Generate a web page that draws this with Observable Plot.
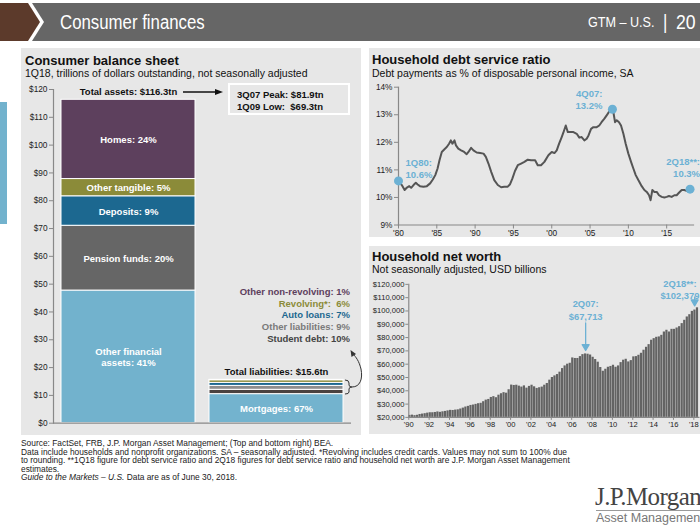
<!DOCTYPE html>
<html>
<head>
<meta charset="utf-8">
<script src="https://cdn.jsdelivr.net/npm/d3@7"></script>
<script src="https://cdn.jsdelivr.net/npm/@observablehq/plot@0.6"></script>
<style>
html, body { margin:0; padding:0; background:#fff; width:700px; height:525px; overflow:hidden; }
#page { position:relative; width:700px; height:525px; overflow:hidden; font-family:"Liberation Sans", Arial, sans-serif; color:#111; }
.abs { position:absolute; white-space:nowrap; }
.panel { position:absolute; background:#e7e7e7; }
.title { font-weight:bold; font-size:13px; line-height:15px; color:#111; }
.sub { font-size:10.5px; line-height:12px; color:#111; }
.ann { font-weight:bold; font-size:9.5px; line-height:11.6px; }
.foot { font-size:8.4px; line-height:8.5px; color:#222; }
.hdr { color:#fff; line-height:38px; top:3px; transform:scaleX(0.84); transform-origin:left center; }
.chart { position:absolute; }
</style>
</head>
<body>
<div id="page">
  <!-- header -->
  <div class="abs" style="left:0;top:3px;width:700px;height:38px;background:#666"></div>
  <svg class="abs" style="left:0;top:3px" width="50" height="38">
    <polygon points="0,0 32,0 44,19 32,38 0,38" fill="#fff"/>
    <polygon points="0,0 28,0 40,19 28,38 0,38" fill="#5c3a2b"/>
  </svg>
  <div class="abs hdr" style="left:60px;font-size:20px">Consumer finances</div>
  <div class="abs hdr" style="left:588px;font-size:15px">GTM – U.S.</div>
  <div class="abs hdr" style="left:663px;font-size:20px">|</div>
  <div class="abs hdr" style="left:676px;font-size:21px">20</div>

  <!-- side tab -->
  <div class="abs" style="left:0;top:102px;width:7px;height:122px;background:#72b2cd"></div>

  <!-- panels -->
  <div class="panel" style="left:21px;top:48px;width:340px;height:387px"></div>
  <div class="panel" style="left:369px;top:48px;width:340px;height:189px"></div>
  <div class="panel" style="left:369px;top:246px;width:340px;height:188px"></div>

  <!-- titles -->
  <div class="abs title" style="left:25px;top:53px">Consumer balance sheet</div>
  <div class="abs sub" style="left:25px;top:67px">1Q18, trillions of dollars outstanding, not seasonally adjusted</div>
  <div class="abs title" style="left:372px;top:52px">Household debt service ratio</div>
  <div class="abs sub" style="left:372px;top:67px">Debt payments as % of disposable personal income, SA</div>
  <div class="abs title" style="left:372px;top:249px">Household net worth</div>
  <div class="abs sub" style="left:372px;top:263px">Not seasonally adjusted, USD billions</div>

  <div id="left" class="chart" style="left:0;top:80px"></div>
  <div id="dsr" class="chart" style="left:360px;top:80px"></div>
  <div id="nw" class="chart" style="left:360px;top:275px"></div>

  <!-- peak / low box -->
  <div class="abs" style="left:228px;top:83px;width:118px;height:28px;border:2px solid #fff"></div>
  <div class="abs ann" style="left:237px;top:89px;white-space:pre">3Q07 Peak: $81.9tn
1Q09 Low:  $69.3tn</div>

  <div id="liabLabels" class="abs ann" style="right:350px;top:286px;text-align:right;line-height:11.65px"></div>

  <svg class="abs" style="left:0;top:0" width="700" height="525" pointer-events="none">
    <line x1="183" y1="92" x2="216" y2="92" stroke="#111" stroke-width="1.3"/>
    <polygon points="223,92 215,89 215,95" fill="#111"/>
    <path d="M345,380 Q349,380 349,383 L349,385 Q349,387 352,387 Q349,387 349,389 L349,392 Q349,394 345,394" fill="none" stroke="#333" stroke-width="1"/>
    <path d="M352,387 C360,387 363,379 361,369 C359,361 356,357 353,354" fill="none" stroke="#333" stroke-width="1"/>
    <polygon points="350.5,350 351.5,357 356,354" fill="#333"/>
  </svg>

  <!-- footer -->
  <div class="abs foot" style="left:21px;top:439px">Source: FactSet, FRB, J.P. Morgan Asset Management; (Top and bottom right) BEA.</div>
  <div class="abs foot" style="left:21px;top:447.5px">Data include households and nonprofit organizations. SA – seasonally adjusted. *Revolving includes credit cards. Values may not sum to 100% due</div>
  <div class="abs foot" style="left:21px;top:456px">to rounding. **1Q18 figure for debt service ratio and 2Q18 figures for debt service ratio and household net worth are J.P. Morgan Asset Management</div>
  <div class="abs foot" style="left:21px;top:464.5px">estimates.</div>
  <div class="abs foot" style="left:21px;top:473px"><i>Guide to the Markets – U.S.</i> Data are as of June 30, 2018.</div>

  <div class="abs" style="left:595px;top:484px;font-family:'Liberation Serif','DejaVu Serif',serif;font-size:25px;line-height:26px;color:#444;letter-spacing:-0.6px">J.P.Morgan</div>
  <div class="abs" style="left:596px;top:510px;width:110px;height:1px;background:#9a9a9a"></div>
  <div class="abs" style="left:596px;top:511px;font-size:12.5px;line-height:14px;color:#777">Asset Management</div>
</div>

<script>
// ================= DATA =================
// Consumer balance sheet, 1Q18, trillions of dollars
const assetCategories = ["Other financial assets", "Pension funds", "Deposits", "Other tangible", "Homes"];
const assetValues = [47.7, 23.3, 10.6, 6.2, 28.5];
const assetPct = [41, 20, 9, 5, 24];
const assetLabels = ["Other financial\nassets: 41%", "Pension funds: 20%", "Deposits: 9%", "Other tangible: 5%", "Homes: 24%"];
const totalAssets = 116.3;

const liabCategories = ["Mortgages", "Student debt", "Other liabilities", "Auto loans", "Revolving*", "Other non-revolving"];
const liabValues = [10.45, 1.56, 1.40, 1.09, 0.94, 0.16];
const liabPct = [67, 10, 9, 7, 6, 1];
const totalLiab = 15.6;

const sides = ["Assets", "Liabilities"];

// Household debt service ratio, % of disposable personal income
const dsrYears = [1980.0,1980.43,1980.8,1981.1,1981.4,1981.65,1981.96,1982.26,1982.5,1982.8,1983.26,1983.7,1984.13,1984.48,1984.8,
  1985.1,1985.35,1985.65,1986.0,1986.3,1986.6,1986.83,1987.04,1987.3,1987.5,1987.8,1988.17,1988.57,1988.9,1989.13,1989.48,1989.78,
  1990.2,1990.65,1991.1,1991.4,1991.74,1992.1,1992.5,1992.96,1993.4,1993.8,1994.26,1994.56,1994.87,1995.2,1995.57,1996.0,1996.43,
  1996.87,1997.3,1997.83,1998.17,1998.6,1999.04,1999.56,2000.0,2000.35,2000.65,2000.96,2001.3,2001.5,2001.83,2001.96,2002.1,2002.4,
  2002.83,2003.26,2003.6,2003.9,2004.26,2004.56,2004.8,2005.13,2005.43,2005.87,2006.2,2006.5,2006.87,2007.17,2007.6,2007.92,2008.04,
  2008.26,2008.48,2008.78,2009.04,2009.35,2009.65,2010.0,2010.35,2010.65,2010.96,2011.3,2011.74,2012.09,2012.4,2012.7,2012.9,2013.13,
  2013.4,2013.7,2014.0,2014.35,2014.7,2015.0,2015.3,2015.65,2016.0,2016.3,2016.6,2016.96,2017.3,2017.6,2018.05];
const dsrValues = [10.6,10.45,10.27,10.36,10.41,10.35,10.45,10.53,10.47,10.41,10.39,10.41,10.51,10.65,10.81,
  11.05,11.35,11.65,11.75,11.83,11.95,12.07,11.95,12.07,11.89,11.77,11.71,11.65,11.57,11.65,11.80,11.71,
  11.63,11.61,11.59,11.47,11.23,10.93,10.63,10.45,10.37,10.39,10.39,10.48,10.69,10.96,11.17,11.23,11.29,
  11.37,11.35,11.35,11.17,11.17,11.29,11.53,11.65,11.61,11.71,11.95,12.19,12.34,12.61,12.49,12.37,12.37,
  12.37,12.31,12.17,12.19,12.07,12.13,12.25,12.49,12.55,12.55,12.61,12.73,12.86,12.98,13.16,13.2,13.1,
  12.73,12.8,12.73,12.61,12.31,11.95,11.59,11.29,11.05,10.81,10.63,10.41,10.27,10.2,10.08,9.9,10.27,
  10.2,10.2,10.08,10.02,10.0,10.02,10.05,10.02,10.08,10.08,10.17,10.27,10.27,10.24,10.3];
const dsrMarkerLabels = ["1Q80:\n10.6%", "4Q07:\n13.2%", "2Q18**:\n10.3%"];
const dsrTicksY = [9, 10, 11, 12, 13, 14];
const dsrTicksX = [1980, 1985, 1990, 1995, 2000, 2005, 2010, 2015];

// Household net worth, USD billions, quarterly from 1Q90 to 2Q18
const nwStartYear = 1990;
const nwValues = [
  21500, 21700, 21300, 21600,   // 1990
  22200, 22500, 22800, 23200,   // 1991
  23500, 23500, 23700, 24100,   // 1992
  23800, 24200, 24500, 24900,   // 1993
  25300, 25200, 25500, 25700,   // 1994
  26300, 27000, 27800, 28300,   // 1995
  29000, 29300, 29800, 30300,   // 1996
  30600, 31800, 33000, 33500,   // 1997
  35000, 35600, 34800, 36700,   // 1998
  37800, 38600, 38200, 40800,   // 1999
  44300, 44000, 44200, 43500,   // 2000
  42800, 43700, 42000, 43300,   // 2001
  44200, 43000, 41800, 42300,   // 2002
  42800, 44200, 45500, 48000,   // 2003
  50000, 51200, 52200, 54000,   // 2004
  56700, 58700, 60000, 60700,   // 2005
  64700, 64300, 64300, 65700,   // 2006
  67200, 67713, 67500, 66900,   // 2007
  65200, 63500, 61500, 57500,   // 2008
  54700, 56200, 57700, 58300,   // 2009
  59200, 57700, 58700, 61200,   // 2010
  63000, 63700, 61700, 62700,   // 2011
  65500, 65700, 66700, 68200,   // 2012
  70500, 72700, 74700, 78000,   // 2013
  79200, 80200, 80500, 81700,   // 2014
  84200, 85500, 84200, 86200,   // 2015
  86200, 87200, 88200, 90500,   // 2016
  93000, 95500, 97200, 99700,   // 2017
  100700, 102379                // 2018
];
const nwMarkerQuarters = ["2Q07", "2Q18"];
const nwMarkerLabels = ["2Q07:\n$67,713", "2Q18**:\n$102,379"];
const nwTicksY = [20000, 30000, 40000, 50000, 60000, 70000, 80000, 90000, 100000, 110000, 120000];
const nwTicksX = [1990, 1992, 1994, 1996, 1998, 2000, 2002, 2004, 2006, 2008, 2010, 2012, 2014, 2016, 2018];

// ================= STYLES =================
const assetColors = ["#72b2cd", "#666666", "#1c6890", "#8b8b39", "#5d405d"];
const liabColors = ["#73b3ce", "#4a4240", "#8e8e8e", "#1c6890", "#8b8b39", "#5d405d"];
const liabLabelColors = ["#6fb0cc", "#444444", "#7a7a7a", "#1c6890", "#8b8b39", "#5d405d"];
const annBlue = "#6cb1d4";
const font = "'Liberation Sans', Arial, sans-serif";

// ================= LEFT: balance sheet =================
const balance = [
  ...assetCategories.map((c, i) => ({side: sides[0], cat: c, value: assetValues[i], label: assetLabels[i]})),
  ...liabCategories.map((c, i) => ({side: sides[1], cat: c, value: liabValues[i], label: i === 0 ? `${c}: ${liabPct[i]}%` : ""}))
];
const totals = [
  {side: sides[0], total: totalAssets, text: `Total assets: $${totalAssets}tn`},
  {side: sides[1], total: totalLiab, text: `Total liabilities: $${totalLiab}tn`}
];

const left = Plot.plot({
  width: 360, height: 355,
  marginLeft: 53, marginRight: 9, marginTop: 9, marginBottom: 12.3,
  style: {background: "transparent", fontFamily: font, fontSize: "8.3px", color: "#222", overflow: "visible"},
  x: {domain: sides, paddingInner: 0.094, paddingOuter: 0.05, axis: null},
  y: {domain: [0, 120], axis: null},
  color: {domain: [...assetCategories, ...liabCategories], range: [...assetColors, ...liabColors]},
  marks: [
    Plot.barY(balance, {x: "side", y: "value", fill: "cat", stroke: "#fff", strokeWidth: 1}),
    Plot.text(balance, Plot.stackY({x: "side", y: "value", text: "label", fill: "#fff", fontWeight: "bold", fontSize: 9.5, lineHeight: 1.22})),
    Plot.text(totals, {x: "side", y: "total", text: "text", dy: -8, fontWeight: "bold", fontSize: 9.5, fill: "#111"}),
    Plot.axisY({ticks: d3.range(0, 121, 10), tickFormat: d => "$" + d, tickSize: 4, tickPadding: 2, stroke: "#888", fill: "#222", label: null}),
    Plot.ruleY([0], {stroke: "#888", strokeWidth: 1.2}),
    Plot.frame({anchor: "left", stroke: "#888", strokeWidth: 1.2})
  ]
});
document.getElementById("left").appendChild(left);

// liability labels
const lab = document.getElementById("liabLabels");
for (let i = liabCategories.length - 1; i >= 1; i--) {
  const d = document.createElement("div");
  d.style.color = liabLabelColors[i];
  d.textContent = `${liabCategories[i]}:${i === 4 ? "\u00a0\u00a0" : " "}${liabPct[i]}%`;
  lab.appendChild(d);
}

// ================= TOP RIGHT: debt service ratio =================
const dsr = dsrYears.map((y, i) => ({year: y, value: dsrValues[i]}));
const peakIdx = d3.maxIndex(dsrValues);
const dsrMarkers = [0, peakIdx, dsr.length - 1].map((k, j) => ({...dsr[k], label: dsrMarkerLabels[j]}));

const dsrPlot = Plot.plot({
  width: 340, height: 160,
  marginLeft: 38, marginRight: 7, marginTop: 6.7, marginBottom: 15.5,
  style: {background: "transparent", fontFamily: font, fontSize: "8.3px", color: "#222", overflow: "visible"},
  x: {domain: [1980, 2018.5], axis: null},
  y: {domain: [9, 14], axis: null},
  marks: [
    Plot.axisY({ticks: dsrTicksY, tickFormat: d => d + "%", tickSize: 4, tickPadding: 2, stroke: "#888", fill: "#222", label: null}),
    Plot.axisX({ticks: dsrTicksX, tickFormat: d => "'" + String(d).slice(2), tickSize: 4, tickPadding: 1, stroke: "#888", fill: "#222", label: null}),
    Plot.frame({anchor: "left", stroke: "#888", strokeWidth: 1.2}),
    Plot.frame({anchor: "bottom", stroke: "#888", strokeWidth: 1.2}),
    Plot.line(dsr, {x: "year", y: "value", stroke: "#555", strokeWidth: 2}),
    Plot.dot(dsrMarkers, {x: "year", y: "value", r: 4.5, fill: annBlue, stroke: "none"}),
    Plot.text([dsrMarkers[0]], {x: "year", y: "value", text: "label", textAnchor: "start", dx: 7, dy: -13, fill: annBlue, fontWeight: "bold", fontSize: 9.5, lineHeight: 1.25}),
    Plot.text([dsrMarkers[1]], {x: "year", y: "value", text: "label", textAnchor: "end", dx: -10, dy: -10, fill: annBlue, fontWeight: "bold", fontSize: 9.5, lineHeight: 1.25}),
    Plot.text([dsrMarkers[2]], {x: "year", y: "value", text: "label", textAnchor: "end", dx: 10, dy: -22, fill: annBlue, fontWeight: "bold", fontSize: 9.5, lineHeight: 1.25})
  ]
});
document.getElementById("dsr").appendChild(dsrPlot);

// ================= BOTTOM RIGHT: net worth =================
const nw = nwValues.map((v, i) => ({year: nwStartYear + Math.floor(i / 4) + (i % 4) / 4, value: v}));
const qIndex = q => (2000 + +q.slice(2) - nwStartYear) * 4 + (+q[0] - 1);
const nwMarkers = nwMarkerQuarters.map((q, j) => ({...nw[qIndex(q)], label: nwMarkerLabels[j]}));
const arrowShape = {
  draw(context, l) {
    context.moveTo(0, 0);
    context.lineTo(0, -l + 5);
    context.moveTo(-3.5, -l + 6);
    context.lineTo(0, -l);
    context.lineTo(3.5, -l + 6);
    context.closePath();
  }
};

const nwPlot = Plot.plot({
  width: 345, height: 160,
  marginLeft: 49, marginRight: 1.6, marginTop: 9, marginBottom: 16,
  style: {background: "transparent", fontFamily: font, fontSize: "7.7px", color: "#222", overflow: "visible"},
  x: {domain: [1990, 2018.5], axis: null},
  y: {domain: [20000, 120000], axis: null},
  marks: [
    Plot.rect(nw, {x1: "year", x2: d => d.year + 0.25, y1: 20000, y2: "value", fill: "#636363", insetRight: 0.35}),
    Plot.axisY({ticks: nwTicksY, tickFormat: d => "$" + d3.format(",")(d), tickSize: 3, tickPadding: 1.5, stroke: "#888", fill: "#222", label: null}),
    Plot.axisX({ticks: nwTicksX, tickFormat: d => "'" + String(d).slice(2), tickSize: 3, tickPadding: 1, stroke: "#888", fill: "#222", label: null}),
    Plot.frame({anchor: "left", stroke: "#888", strokeWidth: 1.2}),
    Plot.frame({anchor: "bottom", stroke: "#888", strokeWidth: 1.2}),
    Plot.vector([nwMarkers[0]], {x: d => d.year + 0.125, y: "value", length: 28, rotate: 180, anchor: "end", dy: -3.5, shape: arrowShape, stroke: annBlue, fill: annBlue, strokeWidth: 1.3}),
    Plot.vector([nwMarkers[1]], {x: d => d.year + 0.125, y: "value", length: 9, rotate: 180, anchor: "end", dy: -2, dx: -3, shape: arrowShape, stroke: annBlue, fill: annBlue, strokeWidth: 1.3}),
    Plot.text([nwMarkers[0]], {x: d => d.year + 0.125, y: "value", text: "label", dy: -45, fill: annBlue, fontWeight: "bold", fontSize: 9.5, lineHeight: 1.35}),
    Plot.text([nwMarkers[1]], {x: d => d.year + 0.125, y: "value", text: "label", dx: -18, dy: -19, fill: annBlue, fontWeight: "bold", fontSize: 9.5, lineHeight: 1.3})
  ]
});
document.getElementById("nw").appendChild(nwPlot);
</script>
</body>
</html>
